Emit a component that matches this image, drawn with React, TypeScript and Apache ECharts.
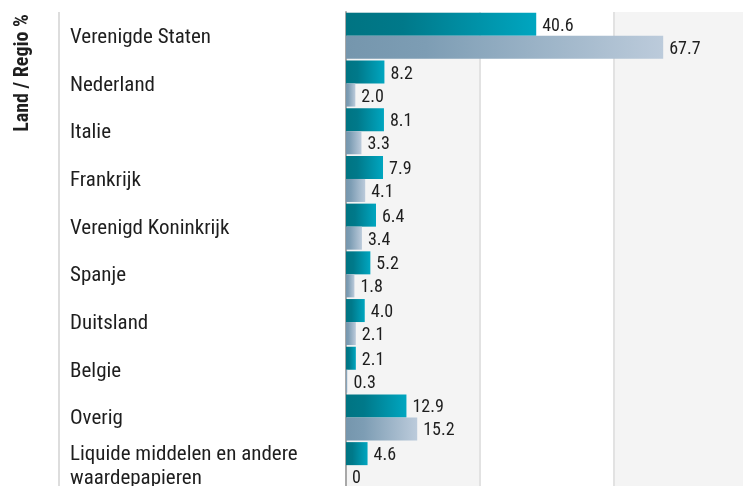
import React, { useEffect, useRef } from "react";
import * as echarts from "echarts";

const categories = [
  "Verenigde Staten",
  "Nederland",
  "Italie",
  "Frankrijk",
  "Verenigd Koninkrijk",
  "Spanje",
  "Duitsland",
  "Belgie",
  "Overig",
  "Liquide middelen en andere waardepapieren",
];
const seriesA = [40.6, 8.2, 8.1, 7.9, 6.4, 5.2, 4.0, 2.1, 12.9, 4.6];
const seriesB = [67.7, 2.0, 3.3, 4.1, 3.4, 1.8, 2.1, 0.3, 15.2, 0];
const axisName = "Land / Regio %";

const FONT = "'Roboto Condensed', 'Liberation Sans Narrow', 'DejaVu Sans Condensed', Roboto, sans-serif";

export default function App() {
  const ref = useRef<HTMLDivElement>(null);
  useEffect(() => {
    if (!ref.current) return;
    const chart = echarts.init(ref.current, undefined, { renderer: "svg" });
    const fmt = (p: any) => (p.value === 0 ? "0" : Number(p.value).toFixed(1));
    chart.setOption({
      animation: false,
      textStyle: { fontFamily: FONT },
      grid: { left: 346, right: 0, top: 12, bottom: 11 },
      xAxis: {
        type: "value",
        min: 0,
        max: 85.8,
        interval: 28.6,
        axisLabel: { show: false },
        axisLine: { show: false },
        axisTick: { show: false },
        splitLine: { show: true, lineStyle: { color: "#e2e2e2", width: 2 } },
        splitArea: { show: true, areaStyle: { color: ["#f4f4f4", "#ffffff"] } },
      },
      yAxis: {
        type: "category",
        inverse: true,
        data: categories,
        axisLine: { show: true, lineStyle: { color: "#a8a8a8", width: 2 } },
        axisTick: { show: false },
        axisLabel: {
          align: "left",
          margin: 276,
          color: "#1e1e1e",
          fontSize: 21,
          fontFamily: FONT,
          width: 262,
          overflow: "break",
          lineHeight: 24,
        },
      },
      graphic: [
        {
          type: "line",
          shape: { x1: 59, y1: 12, x2: 59, y2: 500 },
          style: { stroke: "#dddddd", lineWidth: 2 },
        },
        {
          type: "text",
          x: 21,
          y: 73,
          rotation: Math.PI / 2,
          style: {
            text: axisName,
            fontFamily: FONT,
            fontWeight: "bold",
            fontSize: 20,
            fill: "#1e1e1e",
            align: "center",
            verticalAlign: "middle",
          },
        },
      ],
      series: [
        {
          type: "bar",
          data: seriesA,
          barGap: "0%",
          barCategoryGap: "3.5%",
          itemStyle: {
            color: new echarts.graphic.LinearGradient(0, 0, 1, 0, [
              { offset: 0, color: "#007482" },
              { offset: 0.3, color: "#00798a" },
              { offset: 1, color: "#00a6c0" },
            ]),
          },
          label: {
            show: true,
            position: "right",
            distance: 6,
            color: "#1e1e1e",
            fontSize: 18,
            fontFamily: FONT,
            formatter: fmt,
          },
        },
        {
          type: "bar",
          data: seriesB,
          barGap: "0%",
          barCategoryGap: "3.5%",
          itemStyle: {
            color: new echarts.graphic.LinearGradient(0, 0, 1, 0, [
              { offset: 0, color: "#7596ad" },
              { offset: 0.25, color: "#7d9db4" },
              { offset: 1, color: "#bccbdb" },
            ]),
          },
          label: {
            show: true,
            position: "right",
            distance: 6,
            color: "#1e1e1e",
            fontSize: 18,
            fontFamily: FONT,
            formatter: fmt,
          },
        },
      ],
    });
    return () => chart.dispose();
  }, []);
  return (
    <div
      ref={ref}
      style={{ position: "fixed", left: 0, top: 0, width: 748, height: 500 }}
    />
  );
}
